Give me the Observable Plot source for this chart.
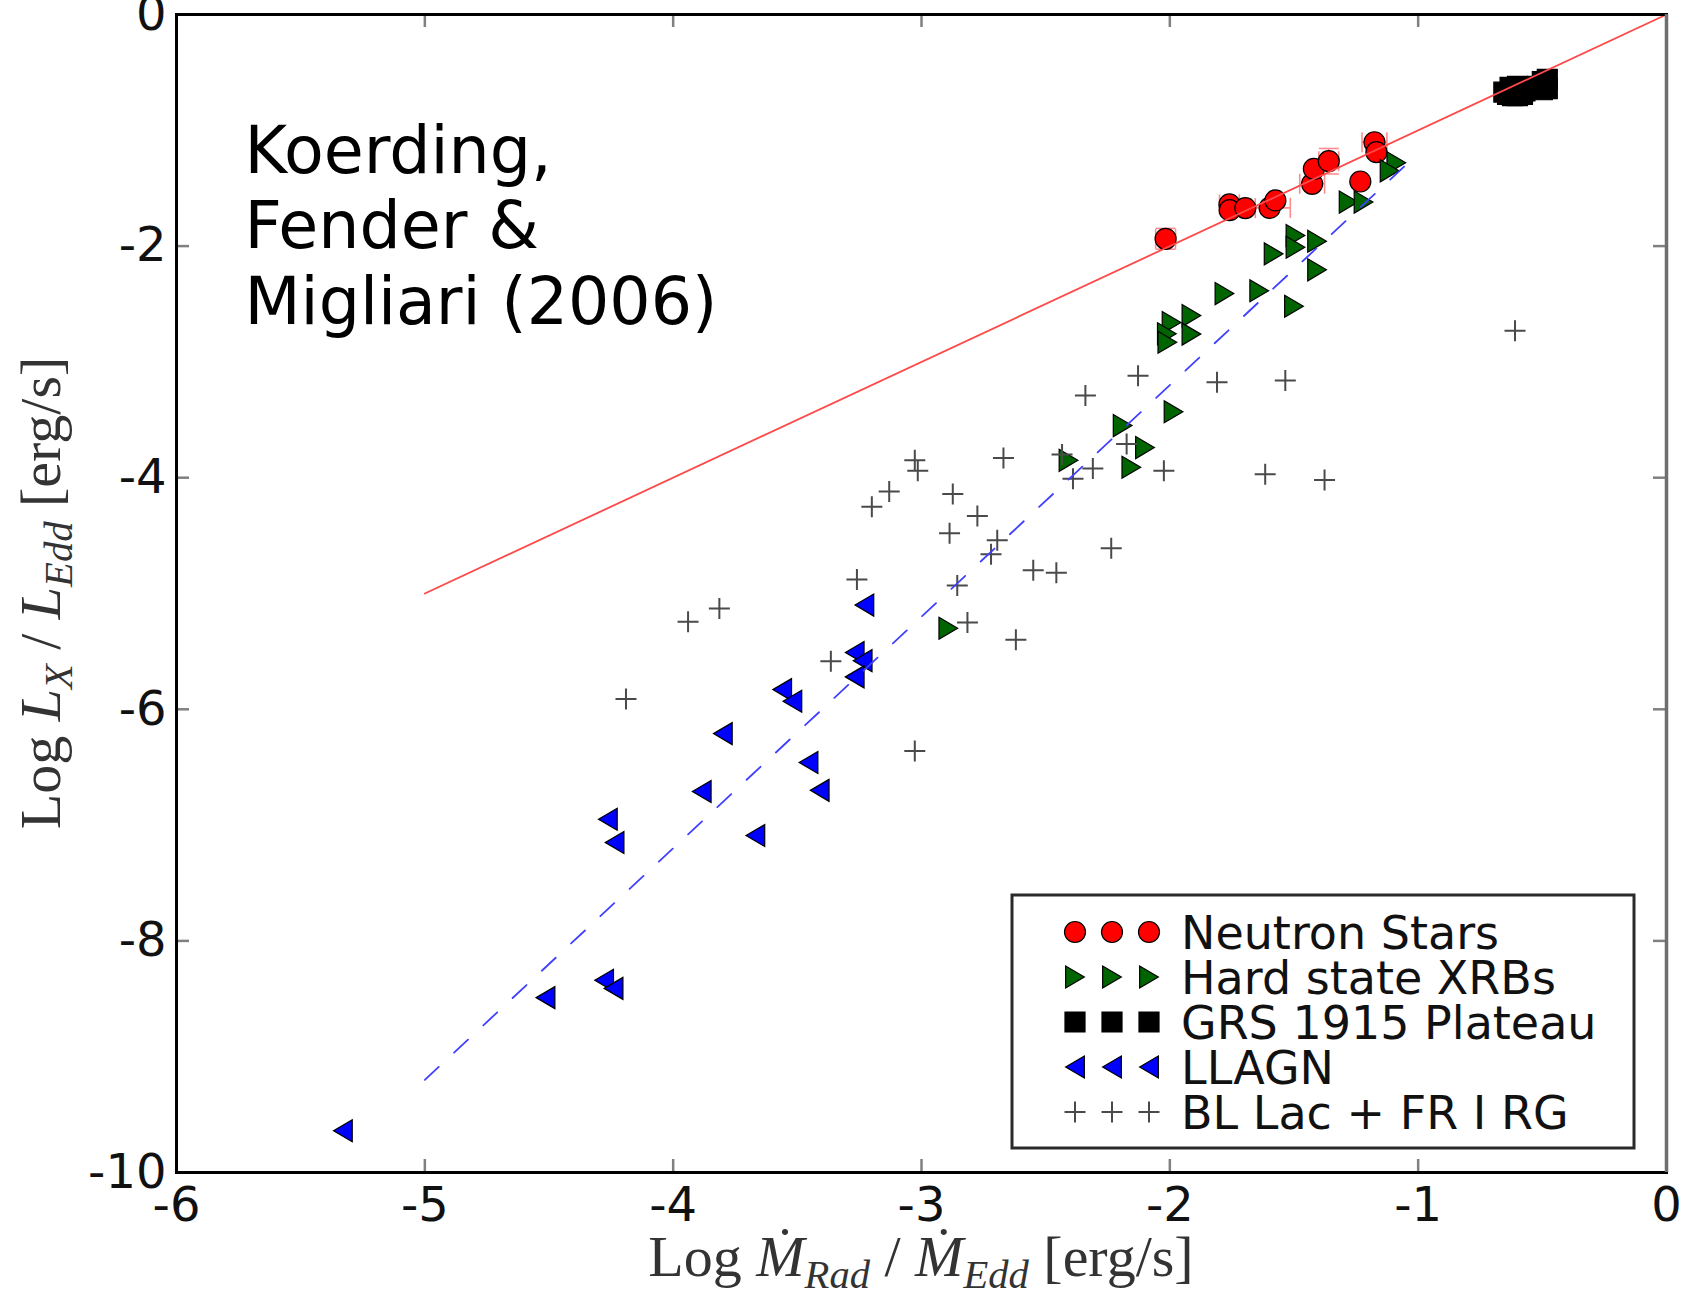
<!DOCTYPE html>
<html>
<head>
<meta charset="utf-8">
<script src="https://cdn.jsdelivr.net/npm/d3@7"></script>
<script src="https://cdn.jsdelivr.net/npm/@observablehq/plot@0.6"></script>
<style>
  html, body { margin: 0; padding: 0; background: #fff; }
  #chart svg { display: block; }
</style>
</head>
<body>
<div id="chart"></div>
<script>
// ---- Data: log(Mdot_rad / Mdot_Edd) vs log(L_X / L_Edd) ----

// Neutron stars (with small error bars)
const nsX    = [-2.017, -1.760, -1.759, -1.696, -1.598, -1.575, -1.427, -1.420, -1.360, -1.233, -1.176, -1.168];
const nsY    = [-1.937, -1.640, -1.690, -1.672, -1.670, -1.606, -1.462, -1.333, -1.267, -1.442, -1.103, -1.189];
const nsXErr = [0.04, 0.04, 0, 0.04, 0.083, 0, 0.05, 0, 0.04, 0, 0.05, 0];
const nsYErr = [0.09, 0, 0, 0, 0, 0, 0, 0, 0.11, 0, 0, 0];

// Hard state X-ray binaries
const xrbX = [-1.088, -1.115, -1.280, -1.220, -1.494, -1.494, -1.407, -1.582, -1.407, -1.500, -1.780, -1.640,
              -1.913, -1.993, -2.012, -1.913, -2.010, -1.985, -2.190, -2.100, -2.408, -2.155, -2.892];
const xrbY = [-1.280, -1.350, -1.620, -1.620, -1.908, -2.010, -1.958, -2.067, -2.205, -2.520, -2.410, -2.385,
              -2.600, -2.660, -2.757, -2.760, -2.830, -3.430, -3.550, -3.740, -3.850, -3.910, -5.300];

// GRS 1915+105 plateau state
const grsX = [-0.655, -0.640, -0.620, -0.600, -0.580, -0.570, -0.600, -0.630, -0.550, -0.520, -0.500, -0.480, -0.480, -0.500];
const grsY = [-0.670, -0.690, -0.700, -0.700, -0.690, -0.660, -0.620, -0.630, -0.640, -0.620, -0.580, -0.560, -0.640, -0.650];

// Low-luminosity AGN
const agnX = [-3.230, -3.269, -3.237, -3.269, -3.561, -3.520, -3.800, -3.455, -3.410, -3.885, -3.669,
              -4.263, -4.236, -4.278, -4.240, -4.514, -5.330];
const agnY = [-5.100, -5.510, -5.580, -5.720, -5.830, -5.930, -6.210, -6.460, -6.700, -6.710, -7.090,
              -6.950, -7.150, -8.340, -8.410, -8.490, -9.640];

// BL Lacs + FR I radio galaxies
const blX = [-0.610, -2.128, -1.810, -1.535, -2.340, -3.027, -3.015, -2.670, -2.434, -2.174, -2.310, -2.390,
             -2.024, -1.616, -1.377, -3.130, -3.200, -2.874, -2.775, -2.887, -2.695, -2.720, -2.236, -2.550,
             -2.457, -2.856, -3.260, -3.814, -3.940, -2.815, -2.620, -3.365, -4.190, -3.027];
const blY = [-2.730, -3.120, -3.175, -3.160, -3.290, -3.850, -3.940, -3.830, -3.800, -3.710, -3.920, -4.010,
             -3.940, -3.970, -4.020, -4.120, -4.250, -4.140, -4.330, -4.480, -4.540, -4.660, -4.610, -4.800,
             -4.820, -4.930, -4.880, -5.130, -5.245, -5.250, -5.400, -5.585, -5.910, -6.360];

// Relations: L ∝ Mdot (radiatively efficient) and L ∝ Mdot^2 (radiatively inefficient)
const linearRelation    = [[-5, -5], [0, 0]];
const quadraticRelation = [[-5, -9.2], [-1, -1.2]];

// Axis ticks
const xTicks = [-6, -5, -4, -3, -2, -1, 0];
const yTicks = [-10, -8, -6, -4, -2, 0];

// ---- Marker shapes ----
const triRight = {draw(ctx, size) { const h = Math.sqrt(size / Math.PI), w = h * 0.85;
  ctx.moveTo(w, 0); ctx.lineTo(-w, -h); ctx.lineTo(-w, h); ctx.closePath(); }};
const triLeft = {draw(ctx, size) { const h = Math.sqrt(size / Math.PI), w = h * 0.85;
  ctx.moveTo(-w, 0); ctx.lineTo(w, -h); ctx.lineTo(w, h); ctx.closePath(); }};
const square = {draw(ctx, size) { const h = Math.sqrt(size / Math.PI);
  ctx.rect(-h, -h, 2 * h, 2 * h); }};
const plus = {draw(ctx, size) { const h = Math.sqrt(size / Math.PI);
  ctx.moveTo(-h, 0); ctx.lineTo(h, 0); ctx.moveTo(0, -h); ctx.lineTo(0, h); }};
const vbar = {draw(ctx, size) { const h = Math.sqrt(size / Math.PI);
  ctx.moveTo(0, -h); ctx.lineTo(0, h); }};
const hbar = {draw(ctx, size) { const h = Math.sqrt(size / Math.PI);
  ctx.moveTo(-h, 0); ctx.lineTo(h, 0); }};

const zip = (xs, ys) => xs.map((x, i) => ({x, y: ys[i]}));
const ns  = nsX.map((x, i) => ({x, y: nsY[i], xe: nsXErr[i], ye: nsYErr[i]}));
const nsXE = ns.filter(d => d.xe > 0);
const nsYE = ns.filter(d => d.ye > 0);

const series = [
  {name: "Neutron Stars",      data: ns,              symbol: d3.symbolCircle, fill: "#ff0000", stroke: "#000", r: 10.5},
  {name: "Hard state XRBs",    data: zip(xrbX, xrbY), symbol: triRight,        fill: "#006400", stroke: "#000", r: 11},
  {name: "GRS 1915 Plateau",   data: zip(grsX, grsY), symbol: square,          fill: "#000000", stroke: "#000", r: 10},
  {name: "LLAGN",              data: zip(agnX, agnY), symbol: triLeft,         fill: "#0000ff", stroke: "#000", r: 11},
  {name: "BL Lac + FR I RG",   data: zip(blX, blY),   symbol: plus,            fill: "none",    stroke: "#4a4a4a", r: 10.5}
];

const W = 1691, H = 1297;
const mL = 176, mR = 25, mT = 14, mB = 125;
const frameW = W - mL - mR, frameH = H - mT - mB;
const tickLen = 13;
const errColor = "#ff8c8c";

const chart = Plot.plot({
  width: W, height: H,
  marginLeft: mL, marginRight: mR, marginTop: mT, marginBottom: mB,
  style: {fontFamily: "'DejaVu Sans', sans-serif", background: "#fff", color: "#111", overflow: "visible"},
  x: {domain: [-6, 0], label: null},
  y: {domain: [-10, 0], label: null},
  marks: [
    Plot.axisX({ticks: xTicks, tickFormat: d => String(d), tickSize: 0, tickPadding: 14, fontSize: 48, label: null}),
    Plot.axisY({ticks: yTicks, tickFormat: d => String(d), tickSize: 0, tickPadding: 10, fontSize: 48, label: null}),
    // inward ticks on all four sides
    Plot.ruleX(xTicks, {stroke: "#808080", strokeWidth: 2.5, insetTop: frameH - tickLen}),
    Plot.ruleX(xTicks, {stroke: "#808080", strokeWidth: 2.5, insetBottom: frameH - tickLen}),
    Plot.ruleY(yTicks, {stroke: "#808080", strokeWidth: 2.5, insetRight: frameW - tickLen}),
    Plot.ruleY(yTicks, {stroke: "#808080", strokeWidth: 2.5, insetLeft: frameW - tickLen}),
    // citation
    Plot.text(["Koerding,\nFender &\nMigliari (2006)"], {
      text: d => d, frameAnchor: "top-left", textAnchor: "start", lineAnchor: "top",
      dx: 68, dy: 105, fontSize: 65, lineHeight: 1.16, fill: "#000"
    }),
    // neutron star error bars
    Plot.ruleY(nsXE, {x1: d => d.x - d.xe, x2: d => d.x + d.xe, y: "y", stroke: errColor, strokeWidth: 1.6}),
    Plot.dot(nsXE, {x: d => d.x - d.xe, y: "y", symbol: vbar, r: 10, stroke: errColor, fill: "none", strokeWidth: 1.6}),
    Plot.dot(nsXE, {x: d => d.x + d.xe, y: "y", symbol: vbar, r: 10, stroke: errColor, fill: "none", strokeWidth: 1.6}),
    Plot.ruleX(nsYE, {y1: d => d.y - d.ye, y2: d => d.y + d.ye, x: "x", stroke: errColor, strokeWidth: 1.6}),
    Plot.dot(nsYE, {x: "x", y: d => d.y - d.ye, symbol: hbar, r: 10, stroke: errColor, fill: "none", strokeWidth: 1.6}),
    Plot.dot(nsYE, {x: "x", y: d => d.y + d.ye, symbol: hbar, r: 10, stroke: errColor, fill: "none", strokeWidth: 1.6}),
    // data series
    ...series.map(s => Plot.dot(s.data, {
      x: "x", y: "y", symbol: s.symbol, r: s.r, fill: s.fill, stroke: s.stroke,
      strokeWidth: s.fill === "none" ? 2 : 1.2
    })),
    // relations
    Plot.line(linearRelation, {x: d => d[0], y: d => d[1], stroke: "#ff4848", strokeWidth: 1.8}),
    Plot.line(quadraticRelation, {x: d => d[0], y: d => d[1], stroke: "#4040ff", strokeWidth: 1.8, strokeDasharray: "19,21"}),
    // frame
    Plot.frame({stroke: "#000", strokeWidth: 3}),
    Plot.ruleX([0], {stroke: "#6e6e6e", strokeWidth: 3.5})
  ]
});

document.getElementById("chart").appendChild(chart);

const svg = d3.select(chart);

// ---- Legend (inside the frame, lower right) ----
const lg = svg.append("g")
  .attr("font-family", "'DejaVu Sans', sans-serif")
  .attr("text-anchor", "start");
lg.append("rect")
  .attr("x", 1012).attr("y", 895).attr("width", 622).attr("height", 253)
  .attr("fill", "#fff").attr("stroke", "#2a2a2a").attr("stroke-width", 3);
series.forEach((s, i) => {
  const cy = 932 + i * 45;
  [1075, 1112, 1149].forEach(cx => {
    lg.append("path")
      .attr("transform", `translate(${cx},${cy})`)
      .attr("d", d3.symbol(s.symbol, Math.PI * s.r * s.r)())
      .attr("fill", s.fill).attr("stroke", s.stroke)
      .attr("stroke-width", s.fill === "none" ? 2 : 1.2);
  });
  lg.append("text")
    .attr("x", 1181).attr("y", cy).attr("dy", "0.36em")
    .attr("text-anchor", "start")
    .attr("font-size", 46).attr("fill", "#111")
    .text(s.name);
});

// ---- Axis titles (serif, with italic symbols and subscripts) ----
function mathLabel(sel, parts) {
  parts.forEach(p => {
    const t = sel.append("tspan").text(p.t);
    if (p.i) t.attr("font-style", "italic");
    if (p.sub) t.attr("font-size", "70%").attr("dy", 12);
    if (p.up) t.attr("dy", -12);
  });
}
const serif = "'Liberation Serif', 'DejaVu Serif', serif";

const xTitle = svg.append("text")
  .attr("x", mL + frameW / 2).attr("y", 1276)
  .attr("text-anchor", "middle").attr("font-family", serif)
  .attr("font-size", 58).attr("fill", "#333");
mathLabel(xTitle, [
  {t: "Log "}, {t: "Ṁ", i: true}, {t: "Rad", i: true, sub: true},
  {t: " / ", up: true}, {t: "Ṁ", i: true}, {t: "Edd", i: true, sub: true},
  {t: " [erg/s]", up: true}
]);

const yTitle = svg.append("text")
  .attr("transform", `translate(60,${mT + frameH / 2}) rotate(-90)`)
  .attr("text-anchor", "middle").attr("font-family", serif)
  .attr("font-size", 58).attr("fill", "#333");
mathLabel(yTitle, [
  {t: "Log "}, {t: "L", i: true}, {t: "X", i: true, sub: true},
  {t: " / ", up: true}, {t: "L", i: true}, {t: "Edd", i: true, sub: true},
  {t: " [erg/s]", up: true}
]);
</script>
</body>
</html>
